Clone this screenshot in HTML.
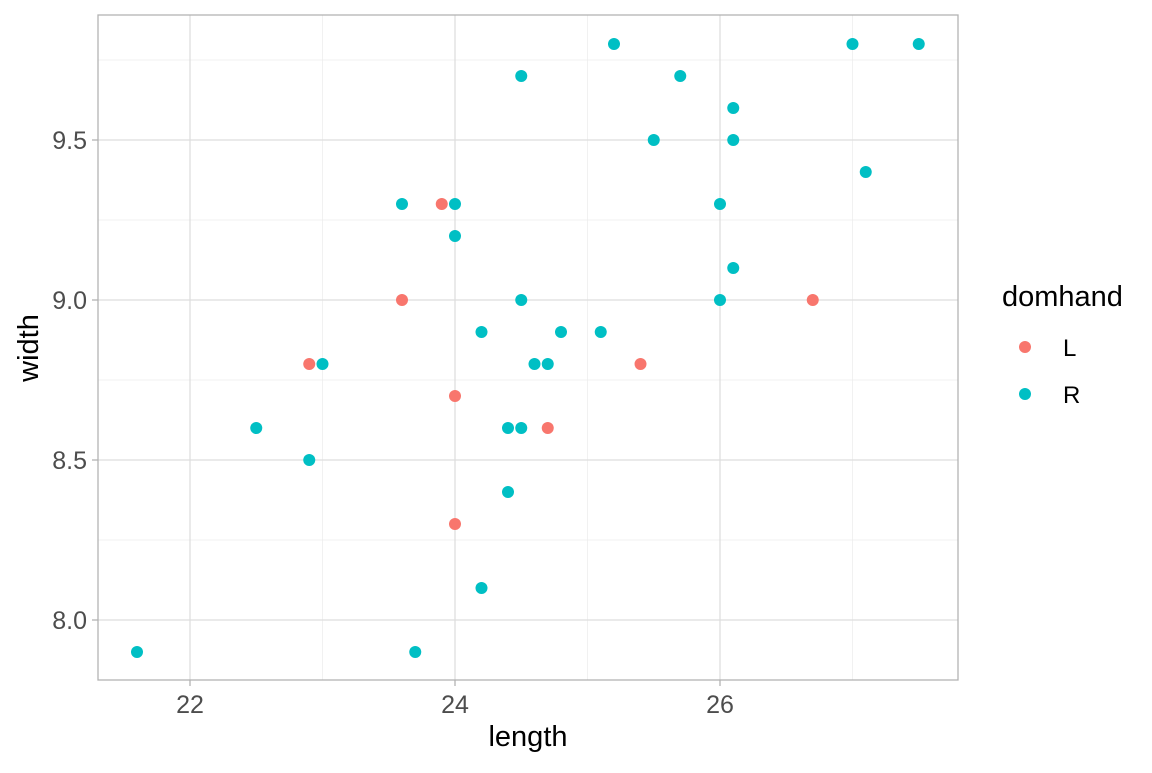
<!DOCTYPE html>
<html><head><meta charset="utf-8"><style>html,body{margin:0;padding:0;background:#fff}</style></head><body>
<svg width="1152" height="768" xmlns="http://www.w3.org/2000/svg" font-family="Liberation Sans, sans-serif">
<rect width="1152" height="768" fill="#fff"/>
<g stroke="#ebebeb" stroke-width="0.7">
<line x1="322.5" y1="15" x2="322.5" y2="680"/><line x1="587.5" y1="15" x2="587.5" y2="680"/><line x1="852.5" y1="15" x2="852.5" y2="680"/>
<line x1="98" y1="60" x2="958" y2="60"/><line x1="98" y1="220" x2="958" y2="220"/><line x1="98" y1="380" x2="958" y2="380"/><line x1="98" y1="540" x2="958" y2="540"/>
</g>
<g stroke="#dedede" stroke-width="1.3">
<line x1="190" y1="15" x2="190" y2="680"/><line x1="455" y1="15" x2="455" y2="680"/><line x1="720" y1="15" x2="720" y2="680"/>
<line x1="98" y1="140" x2="958" y2="140"/><line x1="98" y1="300" x2="958" y2="300"/><line x1="98" y1="460" x2="958" y2="460"/><line x1="98" y1="620" x2="958" y2="620"/>
</g>
<rect x="98" y="15" width="860" height="665" fill="none" stroke="#b3b3b3" stroke-width="1.3"/>
<g stroke="#b3b3b3" stroke-width="1.3">
<line x1="190" y1="680" x2="190" y2="686"/><line x1="455" y1="680" x2="455" y2="686"/><line x1="720" y1="680" x2="720" y2="686"/>
<line x1="92" y1="140" x2="98" y2="140"/><line x1="92" y1="300" x2="98" y2="300"/><line x1="92" y1="460" x2="98" y2="460"/><line x1="92" y1="620" x2="98" y2="620"/>
</g>
<g font-size="25" fill="#4d4d4d">
<text x="190" y="713" text-anchor="middle">22</text><text x="455" y="713" text-anchor="middle">24</text><text x="720" y="713" text-anchor="middle">26</text>
<text x="87" y="149" text-anchor="end">9.5</text><text x="87" y="309" text-anchor="end">9.0</text><text x="87" y="469" text-anchor="end">8.5</text><text x="87" y="629" text-anchor="end">8.0</text>
</g>
<text x="528" y="746" font-size="29" text-anchor="middle" fill="#000">length</text>
<text transform="translate(38,348) rotate(-90)" font-size="29" text-anchor="middle" fill="#000">width</text>
<g fill="#00BFC4" id="R"></g>
<g fill="#F8766D" id="L"></g>
<text x="1002" y="306" font-size="29" fill="#000">domhand</text>
<circle cx="1025" cy="347" r="6" fill="#F8766D"/><text x="1063" y="356" font-size="24" fill="#000">L</text>
<circle cx="1025" cy="394" r="6" fill="#00BFC4"/><text x="1063" y="403" font-size="24" fill="#000">R</text>
</svg>
<script>
var R=[[21.6,7.9],[22.5,8.6],[22.9,8.5],[23.0,8.8],[23.6,9.3],[23.7,7.9],[24.0,9.3],[24.0,9.2],[24.2,8.9],[24.2,8.1],[24.4,8.6],[24.4,8.4],[24.5,9.7],[24.5,9.0],[24.5,8.6],[24.6,8.8],[24.7,8.8],[24.8,8.9],[25.1,8.9],[25.2,9.8],[25.5,9.5],[25.7,9.7],[26.0,9.3],[26.0,9.0],[26.1,9.6],[26.1,9.5],[26.1,9.1],[27.0,9.8],[27.1,9.4],[27.5,9.8]];
var L=[[22.9,8.8],[23.6,9.0],[23.9,9.3],[24.0,8.7],[24.0,8.3],[24.7,8.6],[25.4,8.8],[26.7,9.0]];
function draw(id,a){var g=document.getElementById(id);a.forEach(function(p){var c=document.createElementNS("http://www.w3.org/2000/svg","circle");c.setAttribute("cx",190+(p[0]-22)*132.5);c.setAttribute("cy",300-(p[1]-9)*320);c.setAttribute("r",6);g.appendChild(c);});}
draw("R",R);draw("L",L);
</script>
</body></html>
